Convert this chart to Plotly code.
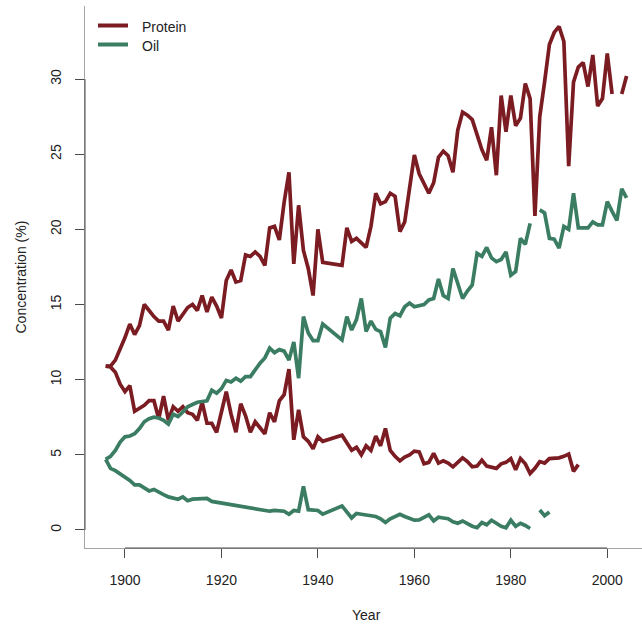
import plotly.graph_objects as go

# ---- Illinois long-term selection: kernel protein and oil by year ----
# High-protein strain
hp_years = [1896, 1897, 1898, 1899, 1900, 1901, 1902, 1903, 1904, 1905, 1906, 1907, 1908, 1909,
            1910, 1911, 1912, 1913, 1914, 1915, 1916, 1917, 1918, 1919, 1920, 1921, 1922, 1923,
            1924, 1925, 1926, 1927, 1928, 1929, 1930, 1931, 1932, 1933, 1934, 1935, 1936, 1937,
            1938, 1939, 1940, 1941, 1945, 1946, 1947, 1948, 1949, 1950, 1951, 1952, 1953, 1954,
            1955, 1956, 1957, 1958, 1960, 1961, 1963, 1964, 1965, 1966, 1967, 1968, 1969, 1970,
            1971, 1972, 1973, 1974, 1975, 1976, 1977, 1978, 1979, 1980, 1981, 1982, 1983, 1984,
            1985, 1986, 1987, 1988, 1989, 1990, 1991, 1992, 1993, 1994, 1995, 1996, 1997, 1998,
            1999, 2000, 2001, 2002, 2003, 2004]
hp_conc = [10.9, 10.9, 11.3, 12.0, 12.8, 13.7, 13.0, 13.6, 15.0, 14.6, 14.2, 13.9, 13.9, 13.3,
           14.9, 13.9, 14.4, 14.8, 15.0, 14.6, 15.6, 14.5, 15.5, 14.9, 14.1, 16.6, 17.3, 16.5,
           16.6, 18.3, 18.2, 18.5, 18.2, 17.6, 20.1, 20.2, 19.3, 21.8, 23.8, 17.7, 21.6, 18.6,
           17.4, 15.6, 20.0, 17.8, 17.6, 20.1, 19.2, 19.4, 19.1, 18.8, 20.2, 22.4, 21.7, 21.85,
           22.4, 22.2, 19.85, 20.5, 24.95, 23.7, 22.4, 23.1, 24.8, 25.2, 24.9, 23.8, 26.6, 27.8,
           27.6, 27.3, 26.3, 25.3, 24.6, 26.8, 23.6, 28.9, 26.5, 28.9, 26.9, 27.4, 29.7, 28.7,
           20.9, 27.5, 29.8, 32.3, 33.1, 33.5, 32.5, 24.2, 29.8, 30.8, 31.1, 29.5, 31.6, 28.2,
           28.7, 31.7, 29.0, None, 29.0, 30.2]

# Low-protein strain
lp_years = [1896, 1897, 1898, 1899, 1900, 1901, 1902, 1903, 1904, 1905, 1906, 1907, 1908, 1909,
            1910, 1911, 1912, 1913, 1914, 1915, 1916, 1917, 1918, 1919, 1921, 1922, 1923, 1924,
            1925, 1926, 1927, 1928, 1929, 1930, 1931, 1932, 1933, 1934, 1935, 1936, 1937, 1938,
            1939, 1940, 1941, 1945, 1947, 1948, 1949, 1950, 1951, 1952, 1953, 1954, 1955, 1956,
            1957, 1958, 1959, 1960, 1961, 1962, 1963, 1964, 1965, 1966, 1967, 1968, 1969, 1970,
            1971, 1972, 1973, 1974, 1975, 1976, 1977, 1978, 1979, 1980, 1981, 1982, 1983, 1984,
            1985, 1986, 1987, 1988, 1989, 1990, 1991, 1992, 1993, 1994]
lp_conc = [10.9, 10.85, 10.5, 9.7, 9.2, 9.6, 7.9, 8.1, 8.3, 8.6, 8.6, 7.4, 8.9, 7.3,
           8.2, 7.9, 8.2, 7.8, 7.7, 7.3, 8.5, 7.1, 7.1, 6.5, 9.2, 7.7, 6.5, 8.4,
           7.6, 6.5, 7.2, 6.8, 6.4, 7.8, 7.2, 8.6, 9.0, 10.7, 6.0, 8.0, 6.2, 5.9,
           5.4, 6.2, 5.9, 6.3, 5.3, 5.5, 5.0, 5.6, 5.3, 6.25, 5.6, 6.76, 5.3, 4.9,
           4.6, 4.85, 5.0, 5.25, 5.2, 4.4, 4.5, 5.1, 4.45, 4.6, 4.45, 4.2, 4.5, 4.8,
           4.55, 4.2, 4.25, 4.65, 4.25, 4.2, 4.1, 4.4, 4.5, 4.75, 4.0, 4.75, 4.4, 3.75,
           4.1, 4.55, 4.45, 4.75, 4.75, 4.8, 4.9, 5.05, 3.9, 4.35]

# High-oil strain
ho_years = [1896, 1897, 1898, 1899, 1900, 1901, 1902, 1903, 1904, 1905, 1906, 1907, 1908, 1909,
            1910, 1911, 1912, 1913, 1914, 1915, 1916, 1917, 1918, 1919, 1920, 1921, 1922, 1923,
            1924, 1925, 1926, 1927, 1928, 1929, 1930, 1931, 1932, 1933, 1934, 1935, 1936, 1937,
            1938, 1939, 1940, 1941, 1945, 1946, 1947, 1948, 1949, 1950, 1951, 1952, 1953, 1954,
            1955, 1956, 1957, 1958, 1959, 1960, 1961, 1962, 1963, 1964, 1965, 1966, 1967, 1968,
            1969, 1970, 1971, 1972, 1973, 1974, 1975, 1976, 1977, 1978, 1979, 1980, 1981, 1982,
            1983, 1984, 1985, 1986, 1987, 1988, 1989, 1990, 1991, 1992, 1993, 1994, 1995, 1996,
            1997, 1998, 1999, 2000, 2001, 2002, 2003, 2004]
ho_conc = [4.7, 4.9, 5.3, 5.85, 6.2, 6.25, 6.4, 6.75, 7.2, 7.4, 7.5, 7.45, 7.3, 7.05,
           7.7, 7.55, 7.85, 8.2, 8.35, 8.5, 8.55, 8.6, 9.3, 9.1, 9.4, 9.95, 9.85, 10.1,
           9.9, 10.2, 10.2, 10.7, 11.1, 11.45, 12.1, 11.8, 12.0, 11.9, 11.3, 12.5, 10.1, 14.2,
           13.1, 12.6, 12.6, 13.7, 12.65, 14.2, 13.3, 14.0, 15.4, 13.2, 13.9, 13.35, 13.2, 12.15,
           14.1, 14.4, 14.25, 14.85, 15.1, 14.85, 14.9, 15.0, 15.3, 15.4, 16.7, 15.6, 15.4, 17.4,
           16.4, 15.4, 15.9, 16.3, 18.4, 18.2, 18.8, 18.1, 17.85, 18.0, 18.5, 16.95, 17.2, 19.4,
           19.0, 20.4, None, 21.3, 21.1, 19.4, 19.35, 18.75, 20.2, 20.0, 22.4, 20.1, 20.1, 20.1,
           20.5, 20.3, 20.3, 21.85, 21.2, 20.6, 22.7, 22.1]

# Low-oil strain
lo_years = [1896, 1897, 1898, 1899, 1900, 1901, 1902, 1903, 1904, 1905, 1906, 1907, 1908, 1909,
            1910, 1911, 1912, 1913, 1914, 1915, 1916, 1917, 1918, 1919, 1920, 1921, 1922, 1923,
            1924, 1925, 1926, 1927, 1928, 1929, 1930, 1931, 1932, 1933, 1934, 1935, 1936, 1937,
            1938, 1939, 1940, 1941, 1945, 1947, 1948, 1949, 1950, 1951, 1952, 1953, 1954, 1955,
            1956, 1957, 1958, 1959, 1960, 1961, 1962, 1963, 1964, 1965, 1966, 1967, 1968, 1969,
            1970, 1971, 1972, 1973, 1974, 1975, 1976, 1977, 1978, 1979, 1980, 1981, 1982, 1983,
            1984, 1985, 1986, 1987, 1988]
lo_conc = [4.7, 4.1, 3.95, 3.75, 3.5, 3.3, 3.0, 3.0, 2.8, 2.6, 2.7, 2.5, 2.35, 2.2,
           2.15, 2.05, 2.2, 1.95, 2.05, 2.05, 2.1, 2.1, 1.9, 1.85, 1.8, 1.75, 1.7, 1.6,
           1.55, 1.5, 1.45, 1.4, 1.35, 1.35, 1.25, 1.3, 1.25, 1.25, 1.05, 1.3, 1.25, 2.9,
           1.35, 1.35, 1.3, 1.05, 1.6, 0.8, 1.1, 1.05, 1.0, 0.95, 0.9, 0.75, 0.5, 0.75,
           0.9, 1.05, 0.9, 0.75, 0.65, 0.67, 0.85, 1.0, 0.6, 0.85, 0.8, 0.75, 0.55, 0.45,
           0.6, 0.4, 0.25, 0.15, 0.5, 0.35, 0.65, 0.45, 0.25, 0.15, 0.65, 0.25, 0.45, 0.3,
           0.1, None, 1.33, 0.95, 1.2]

x_ticks = [1900, 1920, 1940, 1960, 1980, 2000]
y_ticks = [0, 5, 10, 15, 20, 25, 30]
legend_labels = ["Protein", "Oil"]

RED = "#7b1b22"
GREEN = "#3a7d63"
TEXT = "#222222"
AXIS_DARK = "#4a4a4a"
AXIS_LIGHT = "#a6a6a6"
FONT = "Liberation Sans, Arial, Helvetica, sans-serif"

W, H = 642, 624
ML, MR, MT, MB = 85, 0, 6, 76
PW, PH = W - ML - MR, H - MT - MB


def paper_x(px):
    return (px - ML) / PW


def paper_y(py):
    return (H - MB - py) / PH


fig = go.Figure()
for yrs, vals, col in [(hp_years, hp_conc, RED), (lp_years, lp_conc, RED),
                       (ho_years, ho_conc, GREEN), (lo_years, lo_conc, GREEN)]:
    fig.add_trace(go.Scatter(
        x=yrs, y=vals, mode="lines", connectgaps=False, showlegend=False,
        hoverinfo="skip", line=dict(color=col, width=3.7, shape="linear"),
    ))

axis_common = dict(
    showgrid=False, zeroline=False, showline=True, linecolor=AXIS_LIGHT, linewidth=1,
    ticks="outside", ticklen=9, tickwidth=1, tickcolor=AXIS_DARK,
    tickfont=dict(family=FONT, size=14, color=TEXT),
)

fig.update_layout(
    width=W, height=H,
    margin=dict(l=ML, r=MR, t=MT, b=MB, pad=0),
    paper_bgcolor="white", plot_bgcolor="white",
    font=dict(family=FONT, size=14, color=TEXT),
    xaxis=dict(range=[1891.71, 2007.2], tickvals=x_ticks, ticklabelstandoff=10,
               **axis_common),
    yaxis=dict(range=[-1.198, 34.86], tickvals=y_ticks, tickangle=-90,
               ticklabelstandoff=8, **axis_common),
)

# darker axis spans between first and last tick
fig.add_shape(type="line", xref="x", yref="paper", x0=x_ticks[0], x1=x_ticks[-1], y0=0, y1=0,
              line=dict(color=AXIS_DARK, width=1))
fig.add_shape(type="line", xref="paper", yref="y", x0=0, x1=0, y0=y_ticks[0], y1=y_ticks[-1],
              line=dict(color=AXIS_DARK, width=1))

# legend in the top-left corner
for i, (label, col) in enumerate(zip(legend_labels, [RED, GREEN])):
    ly = 25.5 + i * 19
    fig.add_shape(type="line", xref="paper", yref="paper",
                  x0=paper_x(98), x1=paper_x(128), y0=paper_y(ly), y1=paper_y(ly),
                  line=dict(color=col, width=4))
    fig.add_annotation(text=label, xref="paper", yref="paper", x=paper_x(139.5),
                       y=paper_y(ly + 1.2), xanchor="left", yanchor="middle", showarrow=False,
                       font=dict(family=FONT, size=14, color=TEXT))

# axis titles
fig.add_annotation(text="Year", xref="paper", yref="paper", x=paper_x(366.5),
                   y=paper_y(615), xanchor="center", yanchor="middle", showarrow=False,
                   font=dict(family=FONT, size=14, color=TEXT))
fig.add_annotation(text="Concentration (%)", xref="paper", yref="paper", x=paper_x(20.5),
                   y=paper_y(277), xanchor="center", yanchor="middle", textangle=-90,
                   showarrow=False, font=dict(family=FONT, size=14, color=TEXT))

fig.write_html("out.html")
